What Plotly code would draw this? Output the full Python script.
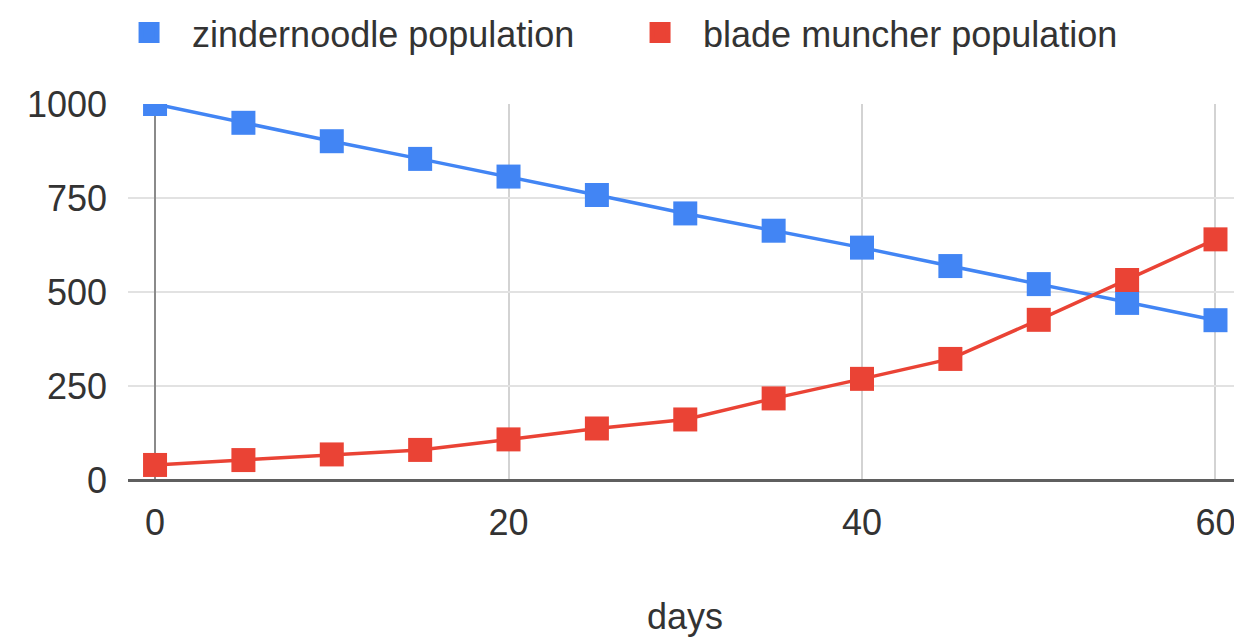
import plotly.graph_objects as go

days = [0, 5, 10, 15, 20, 25, 30, 35, 40, 45, 50, 55, 60]
zindernoodle = [1000, 950, 901, 854, 807, 758, 709, 663, 618, 569, 521, 471, 425]
blade_muncher = [40, 53, 68, 80, 108, 137, 161, 217, 269, 322, 426, 532, 640]
series_names = ["zindernoodle population", "blade muncher population"]
colors = ["#4285F4", "#EA4335"]
y_ticks = [0, 250, 500, 750, 1000]
x_ticks = [0, 20, 40, 60]

FONT = "Liberation Sans, Arial, sans-serif"
FS = 36
TXT = "#333333"
fig = go.Figure()
for name, vals, col in zip(series_names, [zindernoodle, blade_muncher], colors):
    fig.add_trace(go.Scatter(
        x=days, y=vals, mode="lines+markers", name=name, showlegend=False,
        line=dict(color=col, width=3.5),
        marker=dict(symbol="square", size=24, color=col),
    ))
for name, col in zip(series_names, colors):
    fig.add_trace(go.Scatter(
        x=[None], y=[None], mode="markers", name=name, showlegend=True,
        marker=dict(symbol="square", size=24, color=col, line=dict(color=col, width=5)),
    ))

fig.update_layout(
    width=1234, height=629,
    margin=dict(l=120, r=0, t=96, b=157, autoexpand=False),
    paper_bgcolor="white", plot_bgcolor="white",
    font=dict(family=FONT, size=FS, color=TXT),
    legend=dict(
        orientation="h", x=-0.0197, xanchor="left", y=1.19, yanchor="middle",
        font=dict(family=FONT, size=FS, color=TXT),
        itemwidth=76, entrywidth=420, entrywidthmode="pixels",
        bgcolor="rgba(0,0,0,0)",
    ),
    xaxis=dict(
        range=[-1.53, 61.5], tickvals=x_ticks, ticktext=[str(v) for v in x_ticks],
        showgrid=True, gridcolor="#d3d3d3", gridwidth=1.5,
        zeroline=True, zerolinecolor="#8a8a8a", zerolinewidth=2,
        showline=False, ticks="", ticklabelstandoff=18,
        tickfont=dict(family=FONT, size=FS, color=TXT),
        title=dict(text="days", standoff=62, font=dict(family=FONT, size=FS, color=TXT)),
        automargin=False, fixedrange=True,
    ),
    yaxis=dict(
        range=[0, 1000], tickvals=y_ticks, ticktext=[str(v) for v in y_ticks],
        showgrid=True, gridcolor="#e2e2e2", gridwidth=2,
        zeroline=True, zerolinecolor="#5f5f5f", zerolinewidth=3,
        showline=False, ticks="", ticklabelstandoff=20,
        tickfont=dict(family=FONT, size=FS, color=TXT),
        automargin=False, fixedrange=True,
    ),
)

fig.write_html("out.html")
